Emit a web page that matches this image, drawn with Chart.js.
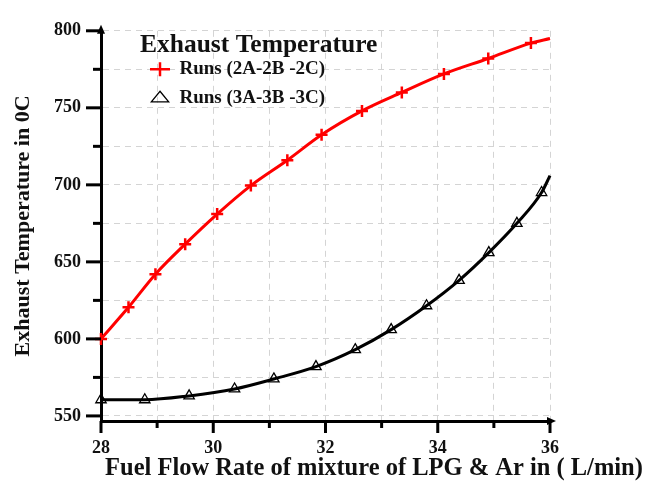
<!DOCTYPE html>
<html>
<head>
<meta charset="utf-8">
<script src="https://cdn.jsdelivr.net/npm/chart.js@4.4.1/dist/chart.umd.min.js"></script>
<style>
  html, body { margin: 0; padding: 0; background: #fff; }
  #wrap { width: 649px; height: 484px; }
</style>
</head>
<body>
<div id="wrap"><canvas id="chart"></canvas></div>
<script>
// Runs (2A-2B -2C): marker readings, last entry is where the fitted curve ends (no marker)
const redX = [28, 28.49, 28.97, 29.5, 30.07, 30.67, 31.32, 31.93, 32.65, 33.36, 34.11, 34.9, 35.66, 36];
const redY = [600, 620.5, 642, 661.5, 681, 699.5, 716, 732.5, 748, 760, 772, 782, 792, 795];

// Runs (3A-3B -3C)
const blackX = [28, 28.78, 29.57, 30.38, 31.08, 31.83, 32.53, 33.17, 33.8, 34.38, 34.91, 35.41, 35.85, 36];
const blackY = [560.5, 560.5, 563, 567.5, 574, 582, 593, 606, 621.5, 638, 656, 675, 695, 706];

const xTicks = [28, 29, 30, 31, 32, 33, 34, 35, 36];
const xLabels = [28, 30, 32, 34, 36];
const yTicks = [550, 575, 600, 625, 650, 675, 700, 725, 750, 775, 800];
const yLabels = [550, 600, 650, 700, 750, 800];

const SERIF = "'Liberation Serif', 'Times New Roman', serif";

const toPoints = (xs, ys) => xs.map((x, i) => ({ x: x, y: ys[i] }));
const markerRadius = (n, r) => (ctx) => ctx.dataIndex === n - 1 ? 0 : r;

// tick marks, arrow heads, x title and legend placement
const axisDecor = {
  id: 'axisDecor',
  afterLayout(chart) {
    const lg = chart.legend;
    const h = lg.height;
    lg.width = 270;
    lg.left = 140; lg.top = 19.2;
    lg.right = lg.left + lg.width; lg.bottom = lg.top + h;
  },
  afterDraw(chart) {
    const { ctx, chartArea, scales } = chart;
    const xs = scales.x, ys = scales.y;
    ctx.save();
    ctx.strokeStyle = '#000';
    ctx.lineWidth = 3;
    xTicks.forEach(v => {
      const px = xs.getPixelForValue(v);
      const len = xLabels.includes(v) ? 12 : 7;
      ctx.beginPath();
      ctx.moveTo(px, chartArea.bottom);
      ctx.lineTo(px, chartArea.bottom + len);
      ctx.stroke();
    });
    yTicks.forEach(v => {
      const py = ys.getPixelForValue(v);
      const len = yLabels.includes(v) ? 15 : 8;
      ctx.beginPath();
      ctx.moveTo(chartArea.left, py);
      ctx.lineTo(chartArea.left - len, py);
      ctx.stroke();
    });
    // arrow heads
    ctx.fillStyle = '#000';
    ctx.beginPath();
    ctx.moveTo(chartArea.left, chartArea.top - 6);
    ctx.lineTo(chartArea.left - 4, chartArea.top + 3);
    ctx.lineTo(chartArea.left + 4, chartArea.top + 3);
    ctx.closePath();
    ctx.fill();
    ctx.beginPath();
    ctx.moveTo(chartArea.right + 6, chartArea.bottom);
    ctx.lineTo(chartArea.right - 3, chartArea.bottom - 4);
    ctx.lineTo(chartArea.right - 3, chartArea.bottom + 4);
    ctx.closePath();
    ctx.fill();
    // x axis title
    ctx.font = 'bold 24.5px ' + SERIF;
    ctx.fillStyle = '#111';
    ctx.textAlign = 'center';
    ctx.textBaseline = 'middle';
    ctx.fillText('Fuel Flow Rate of mixture of LPG & Ar in ( L/min)', 374, 469);
    ctx.restore();
  }
};

new Chart(document.getElementById('chart'), {
  type: 'line',
  data: {
    datasets: [
      {
        label: 'Runs (2A-2B -2C)',
        data: toPoints(redX, redY),
        borderColor: '#ff0000',
        borderWidth: 3,
        cubicInterpolationMode: 'monotone',
        pointStyle: 'cross',
        pointRadius: markerRadius(redX.length, 6),
        pointBorderColor: '#ff0000',
        pointBackgroundColor: '#ff0000',
        pointBorderWidth: 2.5,
        clip: false
      },
      {
        label: 'Runs (3A-3B -3C)',
        data: toPoints(blackX, blackY),
        borderColor: '#000',
        borderWidth: 3,
        cubicInterpolationMode: 'monotone',
        pointStyle: 'triangle',
        pointRadius: markerRadius(blackX.length, 6),
        pointBorderColor: '#000',
        pointBackgroundColor: 'rgba(0,0,0,0)',
        pointBorderWidth: 1.3,
        clip: false
      }
    ]
  },
  options: {
    responsive: true,
    maintainAspectRatio: false,
    animation: false,
    layout: { padding: { left: 6, right: 99, top: 16, bottom: 0 } },
    scales: {
      x: {
        type: 'linear',
        min: 28,
        max: 36,
        afterBuildTicks: (scale) => { scale.ticks = xTicks.map(v => ({ value: v })); },
        afterFit: (scale) => { scale.height = 63; },
        ticks: {
          autoSkip: false,
          maxRotation: 0,
          padding: 17,
          color: '#111',
          font: { family: SERIF, size: 18, weight: 'bold' },
          callback: (v) => xLabels.includes(v) ? String(v) : ''
        },
        grid: { color: '#d4d4d4', lineWidth: 1, drawTicks: false },
        border: { display: true, color: '#000', width: 3, dash: [6, 5] }
      },
      y: {
        type: 'linear',
        min: 546.7,
        max: 800,
        afterBuildTicks: (scale) => { scale.ticks = yTicks.map(v => ({ value: v })); },
        afterFit: (scale) => { scale.width = 95; },
        ticks: {
          padding: 20,
          color: '#111',
          font: { family: SERIF, size: 18, weight: 'bold' },
          callback: (v) => yLabels.includes(v) ? String(v) : ''
        },
        grid: { color: '#d4d4d4', lineWidth: 1, drawTicks: false },
        border: { display: true, color: '#000', width: 3, dash: [6, 5] },
        title: {
          display: true,
          text: 'Exhaust Temperature in 0C',
          color: '#111',
          font: { family: SERIF, size: 22, weight: 'bold' }
        }
      }
    },
    plugins: {
      legend: {
        position: 'chartArea',
        align: 'start',
        title: {
          display: true,
          text: 'Exhaust Temperature',
          position: 'start',
          color: '#111',
          padding: { top: 13.3, bottom: -13.3 },
          font: { family: SERIF, size: 25.5, weight: 'bold' }
        },
        labels: {
          usePointStyle: true,
          pointStyleWidth: 20,
          boxHeight: 10,
          padding: 10,
          color: '#111',
          font: { family: SERIF, size: 19, weight: 'bold' }
        }
      },
      tooltip: { enabled: false }
    }
  },
  plugins: [axisDecor]
});
</script>
</body>
</html>
